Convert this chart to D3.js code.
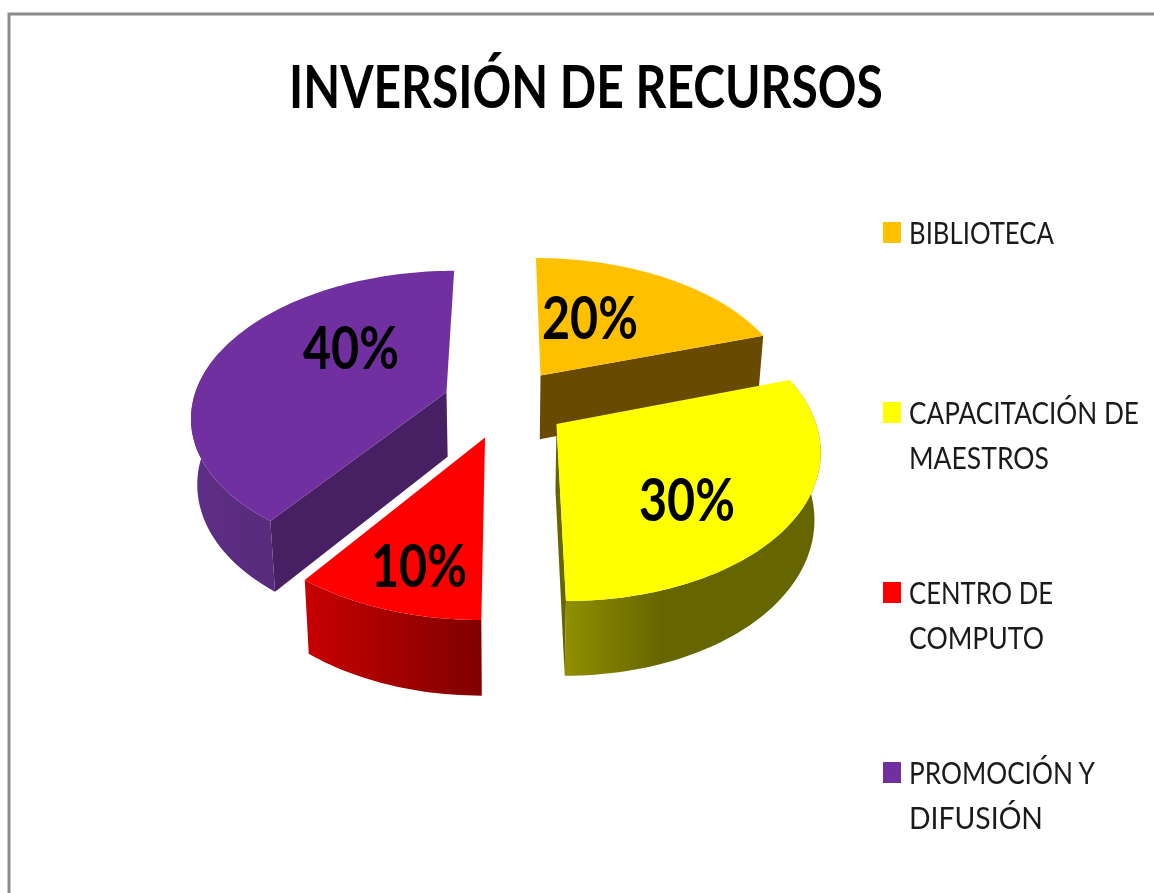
<!DOCTYPE html>
<html>
<head>
<meta charset="utf-8">
<script src="https://cdn.jsdelivr.net/npm/d3@7"></script>
<style>
  html, body { margin: 0; padding: 0; background: #fff; overflow: hidden; }
  svg { display: block; filter: blur(0.45px); }
  text { font-family: Lato, "Open Sans", sans-serif; }
</style>
</head>
<body>
<svg width="1154" height="893"></svg>
<script>
// Data
var title = "INVERSIÓN DE RECURSOS";
var categories = ["BIBLIOTECA", "CAPACITACIÓN DE MAESTROS", "CENTRO DE COMPUTO", "PROMOCIÓN Y DIFUSIÓN"];
var legendLines = [["BIBLIOTECA"], ["CAPACITACIÓN DE", "MAESTROS"], ["CENTRO DE", "COMPUTO"], ["PROMOCIÓN Y", "DIFUSIÓN"]];
var values = [20, 30, 10, 40];

// Colours: top face, cut wall, ends of the outer wall gradient
var topColors = ["#ffc000", "#ffff00", "#ff0000", "#7030a0"];
var cutColors = ["#684b00", "#666600", "#800000", "#472063"];
var sideLight = ["#684b00", "#8f8f00", "#c80000", "#5e2e86"];
var sideDark = ["#684b00", "#666600", "#800000", "#4a2368"];

// Which cut walls show (0 = start of the slice, 1 = end of the slice)
var cutsShown = [[1], [1], [], [0]];

// Where the percent labels sit (left edge, baseline), hand placed in the original too
var labelAt = [[542, 339], [639, 521], [371, 587], [303, 369]];

var svg = d3.select("svg");

// Squeeze a text sideways so it fills the given width
function placeText(sel, x, y, width) {
    var s = width / sel.node().getComputedTextLength();
    sel.attr("transform", "translate(" + x + "," + y + ") scale(" + s + ",1)");
}

// Frame
svg.append("path")
    .attr("d", "M9,893V14H1154")
    .attr("fill", "none")
    .attr("stroke", "#8a8a8a")
    .attr("stroke-width", 3);

// Title
svg.append("text")
    .attr("font-size", 60)
    .attr("font-weight", 700)
    .attr("fill", "#000")
    .text(title)
    .call(placeText, 289, 108, 594);

// Perspective pie: u is left/right and v is back/front, both in radius units
var cx = 505, cy = 403;
var xScale = d3.scaleLinear().domain([-1, 1]).range([cx - 254, cx + 254]);
var yScale = d3.scaleLinear().domain([-1, 1]).range([cy - 143, cy + 143]);
var persp = 0.152, explode = 0.245, depth = 65, shrink = 0.98;

function project(u, v, bottom) {
    var w = 1 / (1 - persp * v);
    var x = xScale(u * w), y = yScale(v * w);
    if (!bottom) return [x, y];
    return [cx + (x - cx) * shrink, cy + (y - cy) * shrink + depth * w];
}

var pie = d3.pie().sort(null).value(function (d) { return d; });
var arcs = pie(values);

function offset(d) {
    var mid = (d.startAngle + d.endAngle) / 2;
    return [explode * Math.sin(mid), -explode * Math.cos(mid)];
}

function rimAngles(d) {
    var n = Math.ceil((d.endAngle - d.startAngle) * 40);
    return d3.range(n + 1).map(function (i) {
        return d.startAngle + (d.endAngle - d.startAngle) * i / n;
    });
}

function rimPoint(d, a, bottom) {
    var o = offset(d);
    return project(o[0] + Math.sin(a), o[1] - Math.cos(a), bottom);
}

function apex(d, bottom) {
    var o = offset(d);
    return project(o[0], o[1], bottom);
}

var line = d3.line().curve(d3.curveLinear);
function closed(points) { return line(points) + "Z"; }

// Side gradients
var defs = svg.append("defs");
arcs.forEach(function (d, i) {
    var xs = rimAngles(d).map(function (a) { return rimPoint(d, a, false)[0]; });
    var grad = defs.append("linearGradient")
        .attr("id", "side" + i)
        .attr("gradientUnits", "userSpaceOnUse")
        .attr("x1", d3.min(xs))
        .attr("x2", d3.max(xs))
        .attr("y1", 0)
        .attr("y2", 0);
    if (i == 1) {
        // yellow only fades over its first part, from the front corner
        grad.attr("x1", xs[xs.length - 1]).attr("x2", xs[xs.length - 1] + 95);
    }
    grad.append("stop").attr("offset", 0).attr("stop-color", sideLight[i]);
    grad.append("stop").attr("offset", 1).attr("stop-color", sideDark[i]);
});

// Back slices first, then the front ones
var drawOrder = [0, 3, 1, 2];
var slices = svg.selectAll("g.slice")
    .data(drawOrder)
    .enter().append("g")
    .attr("class", "slice");

slices.each(function (i) {
    var d = arcs[i], g = d3.select(this);
    var angles = rimAngles(d);
    var a0 = apex(d, false), a1 = apex(d, true);

    cutsShown[i].forEach(function (c) {
        var a = c ? d.endAngle : d.startAngle;
        g.append("path")
            .attr("d", closed([a0, rimPoint(d, a, false), rimPoint(d, a, true), a1]))
            .attr("fill", cutColors[i]);
    });

    // outer wall, only the part that faces the viewer
    var front = angles.filter(function (a) { return Math.cos(a) < 0.3; });
    if (front.length > 1) {
        var upper = front.map(function (a) { return rimPoint(d, a, false); });
        var lower = front.map(function (a) { return rimPoint(d, a, true); });
        g.append("path")
            .attr("d", closed(upper.concat(lower.reverse())))
            .attr("fill", "url(#side" + i + ")");
    }

    // top face
    g.append("path")
        .attr("d", closed([a0].concat(angles.map(function (a) { return rimPoint(d, a, false); }))))
        .attr("fill", topColors[i]);
});

// Percent labels
values.forEach(function (v, i) {
    svg.append("text")
        .attr("class", "pct")
        .attr("font-size", 60)
        .attr("font-weight", 700)
        .attr("fill", "#000")
        .text(v + "%")
        .call(placeText, labelAt[i][0], labelAt[i][1], 96);
});

// Legend
var legendY = d3.scaleLinear().domain([0, 3]).range([233, 773]);
var lineWidths = [[145], [230, 140], [144, 135], [186, 134]];
var legend = svg.selectAll("g.legend")
    .data(categories)
    .enter().append("g")
    .attr("class", "legend")
    .attr("transform", function (d, i) { return "translate(883," + legendY(i) + ")"; });
legend.append("rect")
    .attr("y", -11)
    .attr("width", 18)
    .attr("height", 21)
    .attr("fill", function (d, i) { return topColors[i]; });
legend.each(function (d, i) {
    var g = d3.select(this);
    legendLines[i].forEach(function (t, j) {
        g.append("text")
            .attr("font-size", 30)
            .attr("fill", "#1a1a1a")
            .text(t)
            .call(placeText, 26, 11 + j * 45, lineWidths[i][j]);
    });
});
</script>
</body>
</html>
